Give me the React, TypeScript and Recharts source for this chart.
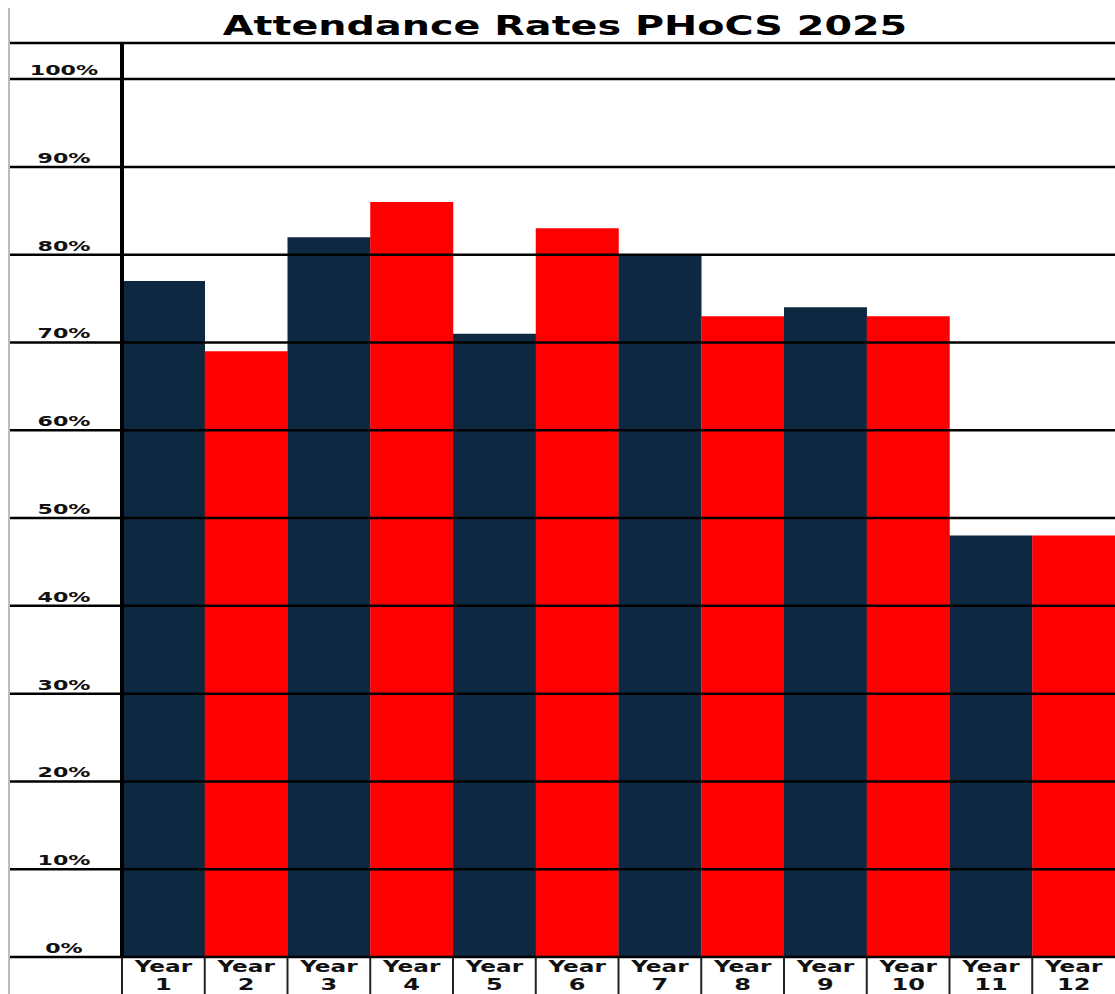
import React from 'react';
import { BarChart, Bar, XAxis, YAxis, Cell } from 'recharts';

const categories = ['Year 1', 'Year 2', 'Year 3', 'Year 4', 'Year 5', 'Year 6', 'Year 7', 'Year 8', 'Year 9', 'Year 10', 'Year 11', 'Year 12'];
const attendance = [77, 69, 82, 86, 71, 83, 80, 73, 74, 73, 48, 48];
const yTicks = [0, 10, 20, 30, 40, 50, 60, 70, 80, 90, 100];
const title = 'Attendance Rates PHoCS 2025';

const data = categories.map((name, i) => ({ name, value: attendance[i] }));

const W = 1107;
const H = 986;
const LEFT = 114;
const TOP = 36;
const BOTTOM = 37;
const PLOT_BOTTOM = H - BOTTOM;
const BAND = (W - LEFT) / categories.length;
const NAVY = '#0F2841';
const RED = '#FF0000';
const FONT = '"DejaVu Sans", Verdana, sans-serif';

const YTick = (props: any) => {
  const { y, payload } = props;
  return (
    <g>
      <line x1={0} x2={W} y1={y} y2={y} stroke="#000" strokeWidth={2.5} />
      <text
        transform={`translate(56, ${y - 4}) scale(1.58, 1)`}
        textAnchor="middle"
        fontFamily={FONT}
        fontWeight="bold"
        fontSize={14}
        fill="#111"
      >
        {`${payload.value}%`}
      </text>
    </g>
  );
};

const XTick = (props: any) => {
  const { x, payload } = props;
  const parts = String(payload.value).split(' ');
  const left = x - BAND / 2;
  return (
    <g>
      <line x1={left} x2={left} y1={PLOT_BOTTOM} y2={H} stroke="#222" strokeWidth={2} />
      <text
        transform={`translate(${x}, ${PLOT_BOTTOM + 15}) scale(1.45, 1)`}
        textAnchor="middle"
        fontFamily={FONT}
        fontWeight="bold"
        fontSize={16}
        fill="#111"
      >
        {parts[0]}
      </text>
      <text
        transform={`translate(${x}, ${PLOT_BOTTOM + 33}) scale(1.5, 1)`}
        textAnchor="middle"
        fontFamily={FONT}
        fontWeight="bold"
        fontSize={16}
        fill="#111"
      >
        {parts[1]}
      </text>
    </g>
  );
};

export default function App() {
  return (
    <div
      style={{
        width: W + 8,
        height: H + 8,
        paddingLeft: 8,
        paddingTop: 8,
        boxSizing: 'border-box',
        overflow: 'hidden',
        background: '#fff',
      }}
    >
      <style>{'html,body{margin:0;padding:0;overflow:hidden;}'}</style>
      <div style={{ position: 'relative', width: W, height: H }}>
        <BarChart
          width={W}
          height={H}
          data={data}
          margin={{ top: TOP, right: 0, left: 0, bottom: 0 }}
          barCategoryGap={0}
          barGap={0}
        >
          <Bar dataKey="value" isAnimationActive={false}>
            {data.map((d, i) => (
              <Cell key={d.name} fill={i % 2 === 0 ? NAVY : RED} />
            ))}
          </Bar>
          <XAxis
            dataKey="name"
            interval={0}
            axisLine={false}
            tickLine={false}
            height={BOTTOM}
            tick={<XTick />}
          />
          <YAxis
            type="number"
            domain={[0, 104]}
            ticks={yTicks}
            width={LEFT}
            axisLine={{ stroke: '#000', strokeWidth: 4 }}
            tickLine={false}
            tick={<YTick />}
          />
        </BarChart>
        <svg width={W} height={TOP + 2} style={{ position: 'absolute', left: 0, top: 0 }}>
          <line x1={0} x2={W} y1={TOP - 1} y2={TOP - 1} stroke="#000" strokeWidth={2.5} />
          <text
            transform={`translate(557, 27) scale(1.47, 1)`}
            textAnchor="middle"
            fontFamily={FONT}
            fontWeight="bold"
            fontSize={27}
            fill="#000"
          >
            {title}
          </text>
        </svg>
        <svg width={4} height={H} style={{ position: 'absolute', left: 0, top: 0 }}>
          <line x1={1} x2={1} y1={0} y2={H} stroke="#bbb" strokeWidth={2} />
        </svg>
      </div>
    </div>
  );
}
